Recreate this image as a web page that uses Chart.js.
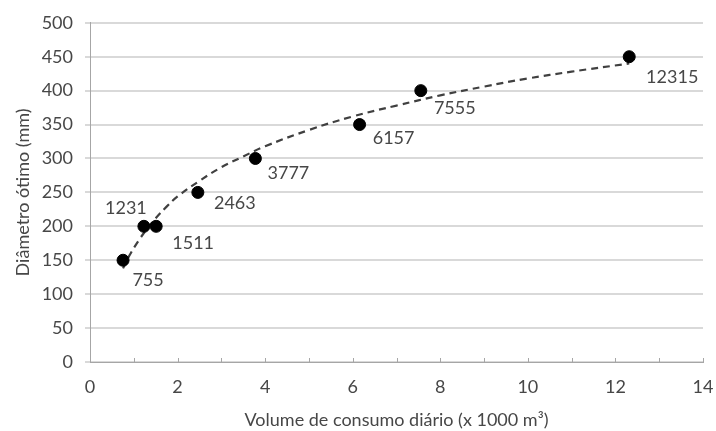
<!DOCTYPE html>
<html>
<head>
<meta charset="utf-8">
<script src="https://cdn.jsdelivr.net/npm/chart.js@4/dist/chart.umd.min.js"></script>
<style>
  html, body { margin: 0; padding: 0; background: #fff; }
  #wrap { width: 716px; height: 431px; }
</style>
</head>
<body>
<div id="wrap"><canvas id="chart" width="716" height="431"></canvas></div>
<script>
// volumes in m3 (also used as the point labels) and the optimal diameters in mm
const volumes = [755, 1231, 1511, 2463, 3777, 6157, 7555, 12315];
const diameters = [150, 200, 200, 250, 300, 350, 400, 450];

// dashed trend line
const trendX = [0.755, 0.9, 1.1, 1.3, 1.5, 1.75, 2.0, 2.5, 3.0, 3.5, 4.0, 5.0, 6.0, 7.0, 8.0, 9.0, 10.0, 11.0, 12.315];
const trendY = [138, 157, 178, 196, 212, 229, 244, 267, 287, 303, 318, 342, 362, 378, 393, 406, 418, 428, 440];

const xTitle = 'Volume de consumo diário (x 1000 m³)';
const yTitle = 'Diâmetro ótimo (mm)';

const textColor = '#474747';
const font = 'Lato, "Open Sans", sans-serif';

// where each label sits relative to its point
const labelOffsets = [[25, 20], [-18, -18], [37, 17], [37, 11], [33, 15], [34, 14], [34, 18], [43, 20]];

const pointLabels = {
  id: 'pointLabels',
  afterDatasetsDraw(chart) {
    const meta = chart.getDatasetMeta(1);
    const ctx = chart.ctx;
    ctx.save();
    ctx.fillStyle = textColor;
    ctx.font = '18px ' + font;
    ctx.textAlign = 'center';
    ctx.textBaseline = 'middle';
    meta.data.forEach((el, i) => {
      const off = labelOffsets[i];
      ctx.fillText(String(volumes[i]), el.x + off[0], el.y + off[1]);
    });
    ctx.restore();
  }
};

// small tick marks on the x axis, one per unit, pointing up
const minorTicks = {
  id: 'minorTicks',
  afterDraw(chart) {
    const xs = chart.scales.x;
    const ctx = chart.ctx;
    ctx.save();
    ctx.strokeStyle = '#a6a6a6';
    ctx.lineWidth = 1;
    for (let v = 1; v <= 14; v++) {
      const px = Math.round(xs.getPixelForValue(v)) + 0.5;
      ctx.beginPath();
      ctx.moveTo(px, xs.top);
      ctx.lineTo(px, xs.top - 4);
      ctx.stroke();
    }
    ctx.restore();
  }
};

new Chart(document.getElementById('chart'), {
  type: 'scatter',
  data: {
    datasets: [
      {
        type: 'line',
        data: trendX.map((x, i) => ({ x: x, y: trendY[i] })),
        borderColor: '#404040',
        borderWidth: 2.2,
        borderDash: [7, 5],
        pointRadius: 0,
        tension: 0.4,
        fill: false,
        order: 2
      },
      {
        data: volumes.map((v, i) => ({ x: v / 1000, y: diameters[i] })),
        backgroundColor: '#000',
        borderColor: '#000',
        pointRadius: 6,
        pointHoverRadius: 6,
        order: 1
      }
    ]
  },
  options: {
    responsive: false,
    animation: false,
    layout: { padding: { top: 22, right: 0, left: 0, bottom: 0 } },
    plugins: {
      legend: { display: false },
      tooltip: { enabled: false }
    },
    scales: {
      x: {
        type: 'linear',
        min: 0,
        max: 14,
        afterFit: (s) => { s.height = 69; s.paddingRight = 13; s.paddingLeft = 0; },
        ticks: { stepSize: 2, color: textColor, font: { family: font, size: 18 }, padding: 14 },
        grid: { display: false, drawTicks: false },
        border: { color: '#a6a6a6', width: 1 },
        title: { display: true, text: xTitle, color: textColor, font: { family: font, size: 18 }, padding: { top: 0, bottom: 0 } }
      },
      y: {
        min: 0,
        max: 500,
        afterFit: (s) => { s.width = 90; },
        ticks: { stepSize: 50, color: textColor, font: { family: font, size: 18 }, padding: 12 },
        grid: { color: '#d9d9d9', lineWidth: 2, tickLength: 5 },
        border: { color: '#a6a6a6', width: 1 },
        title: { display: true, text: yTitle, color: textColor, font: { family: font, size: 18 }, padding: { top: 12, bottom: 0 } }
      }
    }
  },
  plugins: [pointLabels, minorTicks]
});
</script>
</body>
</html>
